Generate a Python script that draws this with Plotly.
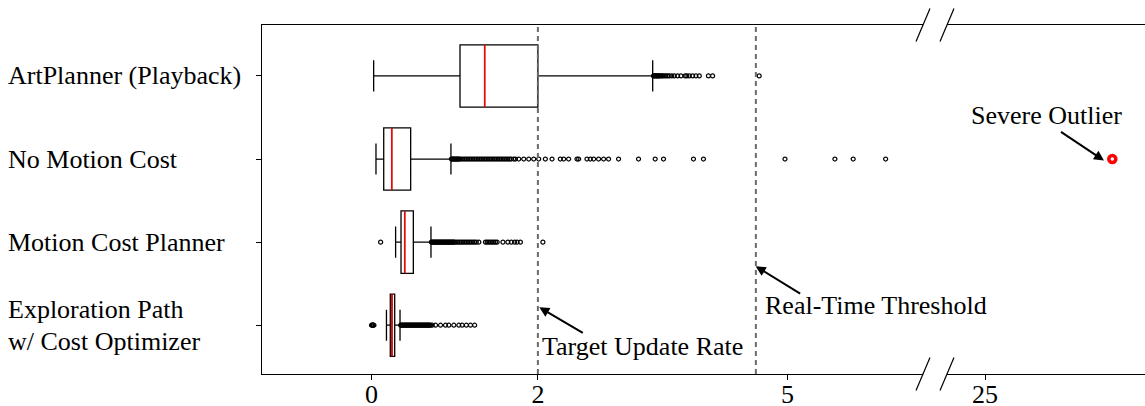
import plotly.graph_objects as go

# ---------------- data ----------------
planners = ["Exploration Path\nw/ Cost Optimizer", "Motion Cost Planner",
            "No Motion Cost", "ArtPlanner (Playback)"]
row_pos = [0, 1, 2, 3]

lower_whisker = [0.18, 0.29, 0.054, 0.026]
q1_vals = [0.226, 0.355, 0.147, 1.064]
median_vals = [0.246, 0.399, 0.243, 1.36]
q3_vals = [0.279, 0.503, 0.471, 2.0]
upper_whisker = [0.343, 0.715, 0.955, 3.38]

explore_outliers = [0.00, 0.01, 0.015, 0.02, 0.03,
                    0.35, 0.36, 0.37, 0.38, 0.39, 0.40, 0.41, 0.42, 0.43, 0.44, 0.45,
                    0.46, 0.47, 0.48, 0.49, 0.50, 0.51, 0.52, 0.53, 0.54, 0.55, 0.56,
                    0.57, 0.58, 0.59, 0.60, 0.61, 0.62, 0.63, 0.64, 0.65, 0.66, 0.67,
                    0.68, 0.69, 0.70, 0.71, 0.73, 0.77, 0.83, 0.89, 0.93, 0.99, 1.05,
                    1.09, 1.14, 1.19, 1.24]
motion_outliers = [0.11,
                   0.72, 0.73, 0.74, 0.75, 0.76, 0.77, 0.78, 0.79, 0.80, 0.81, 0.82,
                   0.83, 0.84, 0.85, 0.86, 0.87, 0.88, 0.89, 0.90, 0.91, 0.92, 0.93,
                   0.94, 0.95, 0.96, 0.97, 0.98, 0.99, 1.00, 1.02, 1.04, 1.06, 1.08,
                   1.10, 1.12, 1.14, 1.16, 1.18, 1.20, 1.22, 1.24, 1.26, 1.29,
                   1.37, 1.39, 1.41, 1.43, 1.45, 1.47, 1.49, 1.51,
                   1.58, 1.64, 1.68, 1.72, 1.75, 1.79, 2.06]
nomotion_outliers = [0.96, 0.97, 0.98, 0.99, 1.00, 1.01, 1.02, 1.03, 1.04, 1.05, 1.06,
                     1.08, 1.10, 1.12, 1.14, 1.16, 1.18, 1.20, 1.22, 1.24, 1.26, 1.28,
                     1.30, 1.32, 1.34, 1.36, 1.38, 1.40, 1.42, 1.44, 1.46, 1.48, 1.50,
                     1.52, 1.54, 1.56, 1.58, 1.60, 1.62, 1.64, 1.66, 1.68, 1.71, 1.73,
                     1.77, 1.83, 1.89, 1.95, 2.01, 2.09, 2.17, 2.27, 2.31, 2.37, 2.47,
                     2.49, 2.59, 2.63, 2.67, 2.73, 2.79, 2.85, 2.97, 3.21, 3.41, 3.51,
                     3.87, 3.99, 4.97, 5.57, 5.79, 6.18]
art_outliers = [3.39, 3.40, 3.41, 3.42, 3.43, 3.44, 3.45, 3.46, 3.47, 3.49, 3.50, 3.52,
                3.54, 3.56, 3.58, 3.61, 3.64, 3.68, 3.72, 3.77, 3.79, 3.82, 3.86, 3.90,
                3.94, 4.05, 4.10, 4.66]
severe_outlier = [26.53]
severe_row = 2

target_rate = 2.0
realtime_threshold = 4.62

left_ticks = [0, 2, 5]
right_ticks = [25]

FONT = "Liberation Serif, Times New Roman, Times, serif"

# ---------------- figure ----------------
fig = go.Figure()

fig.add_trace(go.Box(
    orientation="h", y=row_pos, q1=q1_vals, median=median_vals, q3=q3_vals,
    lowerfence=lower_whisker, upperfence=upper_whisker,
    line=dict(color="black", width=1.3), fillcolor="rgba(0,0,0,0)",
    width=0.75, whiskerwidth=0.5, boxpoints=False, showlegend=False,
    hoverinfo="skip", xaxis="x", yaxis="y"))

fig.add_trace(go.Box(
    orientation="h", y=row_pos, q1=median_vals, median=median_vals, q3=median_vals,
    lowerfence=median_vals, upperfence=median_vals,
    line=dict(color="red", width=1.5), fillcolor="rgba(0,0,0,0)",
    width=0.75, whiskerwidth=0, boxpoints=False, showlegend=False,
    hoverinfo="skip", xaxis="x", yaxis="y"))

for vals, r in [(explore_outliers, 0), (motion_outliers, 1),
                (nomotion_outliers, 2), (art_outliers, 3)]:
    fig.add_trace(go.Scatter(
        x=vals, y=[r] * len(vals), mode="markers",
        marker=dict(symbol="circle-open", size=4, color="black",
                    line=dict(width=1.2, color="black")),
        showlegend=False, xaxis="x", yaxis="y"))

fig.add_trace(go.Scatter(
    x=severe_outlier, y=[severe_row] * len(severe_outlier), mode="markers",
    marker=dict(symbol="circle", size=7, color="white",
                line=dict(width=3.5, color="red")),
    showlegend=False, xaxis="x2", yaxis="y"))

# ---------------- layout ----------------
W, H = 1145, 406
ml, mr, mt, mb = 262, 0, 25, 32
pw, ph = W - ml - mr, H - mt - mb

def px_x(p):
    return (p - ml) / pw

def px_y(p):
    return (H - mb - p) / ph

axis_common = dict(showline=True, linecolor="black", linewidth=1, mirror=True,
                   ticks="outside", ticklen=5, tickcolor="black", showgrid=False,
                   zeroline=False, automargin=False, ticklabelstandoff=-8,
                   tickfont=dict(family=FONT, size=26, color="black"))

fig.update_layout(
    width=W, height=H,
    margin=dict(l=ml, r=mr, t=mt, b=mb, autoexpand=False),
    paper_bgcolor="white", plot_bgcolor="white",
    boxmode="overlay",
    font=dict(family=FONT, size=26, color="black"),
    xaxis=dict(domain=[0, px_x(923)], range=[-1.316, 6.629], tickvals=left_ticks,
               anchor="y", **axis_common),
    xaxis2=dict(domain=[px_x(947), 1], range=[24.543, 26.923], tickvals=right_ticks,
                anchor="y", **axis_common),
    yaxis=dict(range=[-0.587, 3.613], tickvals=row_pos, showticklabels=False,
               showline=True, linecolor="black", linewidth=1, mirror=False,
               ticks="outside", ticklen=5, tickcolor="black", showgrid=False,
               zeroline=False, anchor="x", automargin=False),
)

# dashed reference lines
for xv in [target_rate, realtime_threshold]:
    fig.add_shape(type="line", xref="x", yref="paper", x0=xv, x1=xv, y0=0, y1=1,
                  line=dict(color="#6b6b6b", width=2, dash="5px,4px"))

# axis break marks
for cx in [923, 947]:
    for cy in [25, 374]:
        fig.add_shape(type="line", xref="paper", yref="paper",
                      x0=px_x(cx - 7), y0=px_y(cy + 16.5),
                      x1=px_x(cx + 7), y1=px_y(cy - 16.5),
                      line=dict(color="black", width=1.2))

# category labels (left aligned; multi-line labels drawn line by line)
line_gap = 0.39  # in row units (~32 px)
for name, r in zip(planners, row_pos):
    parts = name.split("\n")
    n = len(parts)
    for i, part in enumerate(parts):
        yy = r + ((n - 1) / 2 - i) * line_gap
        fig.add_annotation(text=part, xref="paper", yref="y", x=px_x(6), y=yy,
                           xanchor="left", yanchor="middle", align="left",
                           showarrow=False,
                           font=dict(family=FONT, size=26, color="black"))

# text annotations
fig.add_annotation(text="Target Update Rate", xref="x", yref="y", x=2.025, y=-0.252,
                   xanchor="left", yanchor="middle", showarrow=False,
                   font=dict(family=FONT, size=26, color="black"))
fig.add_annotation(text="Real-Time Threshold", xref="x", yref="y", x=4.706, y=0.237,
                   xanchor="left", yanchor="middle", showarrow=False,
                   font=dict(family=FONT, size=26, color="black"))
fig.add_annotation(text="Severe Outlier", xref="x2", yref="y", x=25.74, y=2.525,
                   xanchor="center", yanchor="middle", showarrow=False,
                   font=dict(family=FONT, size=26, color="black"))

# arrows
for ref, hx, hy, axp, ayp in [("x", 2.017, 0.216, 45, 26.6),
                              ("x", 4.618, 0.709, 46, 28.3),
                              ("x2", 26.43, 1.982, -44.5, -29.6)]:
    fig.add_annotation(text="", xref=ref, yref="y", x=hx, y=hy, ax=axp, ay=ayp,
                       showarrow=True, arrowhead=2, arrowsize=1, arrowwidth=2,
                       arrowcolor="black", standoff=0, startstandoff=0)

fig.write_html("out.html",
               config={"displayModeBar": False},
               post_script="document.body.style.margin='0px';"
                           "document.body.style.overflow='hidden';")
